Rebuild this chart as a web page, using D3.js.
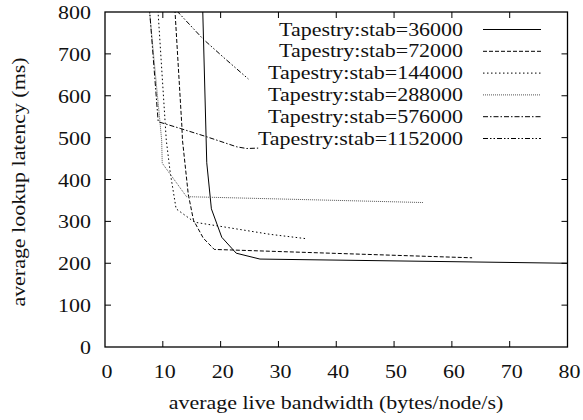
<!DOCTYPE html>
<html>
<head>
<meta charset="utf-8">
<script src="https://cdn.jsdelivr.net/npm/d3@7"></script>
<style>
  body { margin: 0; background: #fff; }
  svg { font-family: "Liberation Serif", "DejaVu Serif", serif; }
</style>
</head>
<body>
<div id="chart"></div>
<script>
// Datos
const seriesLabels = ["Tapestry:stab=36000", "Tapestry:stab=72000", "Tapestry:stab=144000",
                      "Tapestry:stab=288000", "Tapestry:stab=576000", "Tapestry:stab=1152000"];

const bw36000 = [16.8, 17.6, 18.4, 20.2, 22.7, 26.8, 80];
const lat36000 = [860, 440, 330, 262, 224, 210, 200];

const bw72000 = [11.9, 13.3, 13.4, 14.4, 15.3, 17.0, 18.9, 63.5];
const lat72000 = [850, 526, 494, 365, 303, 260, 233, 213];

const bw144000 = [8.9, 10.6, 11.3, 12.3, 15.5, 28.6, 34.6];
const lat144000 = [860, 494, 415, 330, 298, 269, 259];

const bw288000 = [7.3, 9.8, 9.9, 14.1, 55.0];
const lat288000 = [860, 494, 439, 359, 345];

const bw576000 = [7.4, 9.2, 13.0, 17.6, 22.8, 24.5, 26.5];
const lat576000 = [860, 538, 522, 502, 478, 474, 475];

const bw1152000 = [12.4, 17.0, 20.8, 24.8];
const lat1152000 = [803, 735, 688, 640];

const xTicks = [0, 10, 20, 30, 40, 50, 60, 70, 80];
const yTicks = [0, 100, 200, 300, 400, 500, 600, 700, 800];

const allBw = [bw36000, bw72000, bw144000, bw288000, bw576000, bw1152000];
const allLat = [lat36000, lat72000, lat144000, lat288000, lat576000, lat1152000];

// Estilos de linea (tipo gnuplot)
const dashes = [null, "4,2", "1.5,2.5", "1,1", "5,2,1.5,2", "5,2,1.5,2,1.5,2"];
const strokes = ["#000", "#000", "#000", "#555", "#000", "#000"];

const width = 583, height = 420;
const margin = { left: 105, right: 583 - 567.5, top: 12, bottom: 420 - 347 };
const fontSize = 18, stretch = 1.22; // la fuente del original es mas ancha

const svg = d3.select("#chart").append("svg")
    .attr("width", width)
    .attr("height", height);

const x = d3.scaleLinear().domain([0, 80]).range([margin.left, width - margin.right]);
const y = d3.scaleLinear().domain([0, 800]).range([height - margin.bottom, margin.top]);

// Texto con estiramiento horizontal
function addText(tx, ty, str, anchor, rot) {
  return svg.append("text")
      .attr("transform", `translate(${tx},${ty})` + (rot ? ` rotate(${rot})` : "") + ` scale(${stretch},1)`)
      .attr("text-anchor", anchor)
      .attr("font-size", fontSize)
      .attr("fill", "#111")
      .text(str);
}

svg.append("clipPath").attr("id", "plot")
  .append("rect")
    .attr("x", x(0)).attr("y", y(800))
    .attr("width", x(80) - x(0)).attr("height", y(0) - y(800));

// Ticks hacia adentro en los cuatro lados
const tickLen = 6;
const g = svg.append("g").attr("stroke", "#000").attr("stroke-width", 1);
xTicks.slice(1, -1).forEach(t => {
  g.append("line").attr("x1", x(t)).attr("x2", x(t)).attr("y1", y(0)).attr("y2", y(0) - tickLen);
  g.append("line").attr("x1", x(t)).attr("x2", x(t)).attr("y1", y(800)).attr("y2", y(800) + tickLen);
});
yTicks.slice(1, -1).forEach(t => {
  g.append("line").attr("x1", x(0)).attr("x2", x(0) + tickLen).attr("y1", y(t)).attr("y2", y(t));
  g.append("line").attr("x1", x(80)).attr("x2", x(80) - tickLen).attr("y1", y(t)).attr("y2", y(t));
});

// Etiquetas de los ejes
xTicks.forEach(t => addText(x(t) + 2, y(0) + 31, t, "middle"));
yTicks.forEach(t => addText(x(0) - 14, y(t) + 7, t, "end"));

addText(336, 409, "average live bandwidth (bytes/node/s)", "middle");
addText(25, 182, "average lookup latency (ms)", "middle", -90);

// Lineas de las series
const line = d3.line().x(d => x(d[0])).y(d => y(d[1]));
allBw.forEach((bw, i) => {
  const pts = bw.map((b, j) => [b, allLat[i][j]]);
  svg.append("path")
      .attr("d", line(pts))
      .attr("fill", "none")
      .attr("stroke", strokes[i])
      .attr("stroke-width", 1)
      .attr("stroke-dasharray", dashes[i])
      .attr("clip-path", "url(#plot)");
});

// Leyenda
const legY0 = 29.5, legDy = 21.8;
seriesLabels.forEach((name, i) => {
  const ly = legY0 + i * legDy;
  addText(463, ly + 6, name, "end");
  svg.append("line")
      .attr("x1", 483).attr("x2", 541)
      .attr("y1", ly).attr("y2", ly)
      .attr("stroke", strokes[i])
      .attr("stroke-width", 1)
      .attr("stroke-dasharray", dashes[i]);
});

// Marco
svg.append("rect")
    .attr("x", x(0)).attr("y", y(800))
    .attr("width", x(80) - x(0)).attr("height", y(0) - y(800))
    .attr("fill", "none")
    .attr("stroke", "#000")
    .attr("stroke-width", 1.3);
</script>
</body>
</html>
